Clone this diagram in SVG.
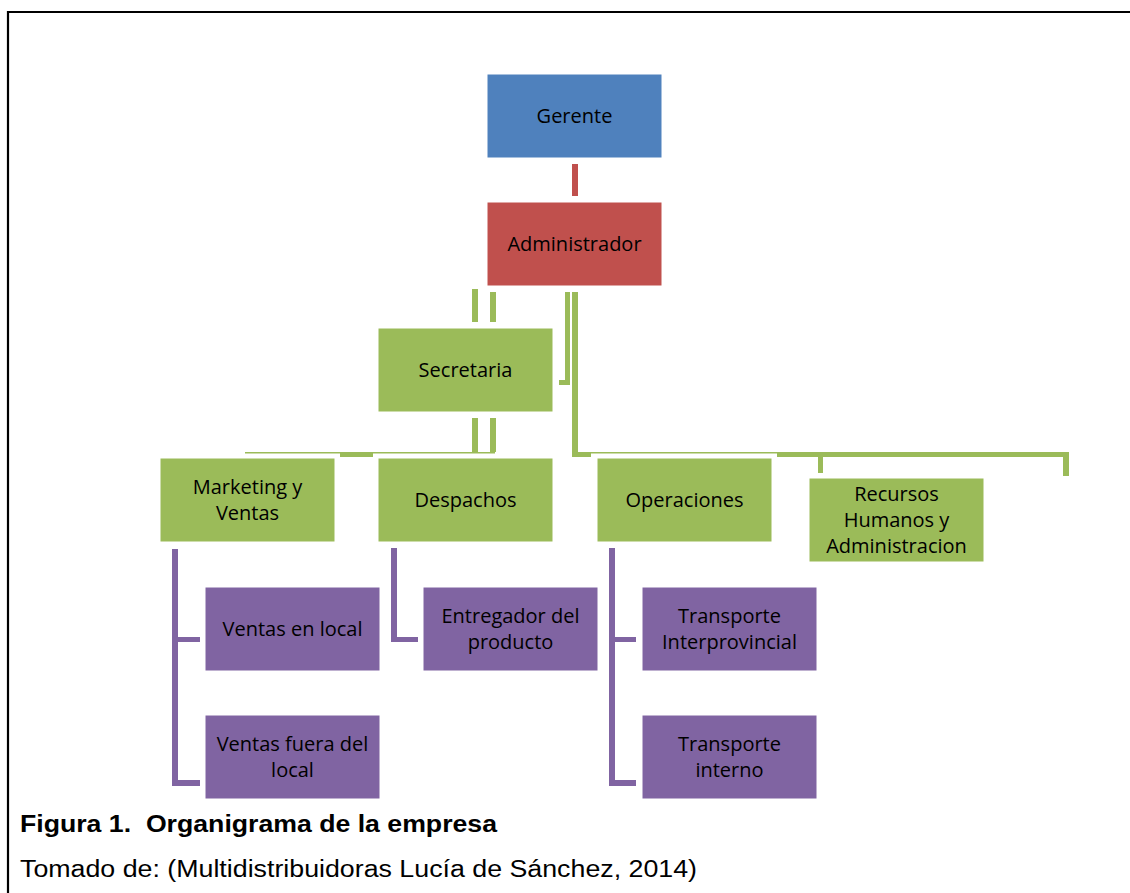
<svg xmlns="http://www.w3.org/2000/svg" width="1130" height="893" viewBox="0 0 1130 893">
  <style>
    .box { stroke: #ffffff; stroke-width: 1; }
    .blue { fill: #4F81BD; }
    .red { fill: #C0504D; }
    .green { fill: #9BBB59; }
    .purple { fill: #8064A2; }
    .lbl { font-family: "Open Sans", Lato, sans-serif; font-size: 20px; fill: #000; text-anchor: middle; }
    .cap { font-family: "Liberation Sans", Arial, sans-serif; font-size: 23px; fill: #000; }
  </style>
  <rect width="1130" height="893" fill="#ffffff"/>
  <!-- frame -->
  <path d="M8 893 V12 H1132" fill="none" stroke="#000" stroke-width="2.2"/>

  <!-- connectors -->
  <g id="connectors">
    <rect class="red" x="572" y="164" width="6" height="32"/>
    <g class="green">
      <rect x="472" y="289" width="6" height="33"/>
      <rect x="490" y="292" width="6" height="30"/>
      <rect x="565" y="292" width="5" height="93"/>
      <rect x="559" y="380" width="11" height="5"/>
      <rect x="572" y="292" width="6" height="165"/>
      <rect x="572" y="452" width="19" height="5"/>
      <rect x="591" y="452" width="186" height="1.5"/>
      <rect x="777" y="452" width="291" height="5"/>
      <rect x="818" y="452" width="5" height="21"/>
      <rect x="1063" y="452" width="6" height="24"/>
      <rect x="472" y="418" width="6" height="34"/>
      <rect x="490" y="418" width="6" height="34"/>
      <rect x="245" y="452" width="250" height="1.5"/>
      <rect x="340" y="452" width="33" height="5"/>
    </g>
    <g class="purple">
      <rect x="172" y="549" width="6" height="237"/>
      <rect x="172" y="637" width="28" height="5"/>
      <rect x="172" y="780" width="28" height="6"/>
      <rect x="391" y="548" width="6" height="94"/>
      <rect x="391" y="637" width="27" height="5"/>
      <rect x="609" y="548" width="6" height="238"/>
      <rect x="609" y="637" width="27" height="5"/>
      <rect x="609" y="780" width="27" height="6"/>
    </g>
  </g>

  <g id="gerente">
    <rect class="box blue" x="487" y="74" width="175" height="84"/>
    <text class="lbl" x="574.5" y="123">Gerente</text>
  </g>
  <g id="administrador">
    <rect class="box red" x="487" y="202" width="175" height="84"/>
    <text class="lbl" x="574.5" y="251">Administrador</text>
  </g>
  <g id="secretaria">
    <rect class="box green" x="378" y="328" width="175" height="84"/>
    <text class="lbl" x="465.5" y="377">Secretaria</text>
  </g>
  <g id="marketing">
    <rect class="box green" x="160" y="458" width="175" height="84"/>
    <text class="lbl" x="247.5" y="494">Marketing y</text>
    <text class="lbl" x="247.5" y="520">Ventas</text>
  </g>
  <g id="despachos">
    <rect class="box green" x="378" y="458" width="175" height="84"/>
    <text class="lbl" x="465.5" y="507">Despachos</text>
  </g>
  <g id="operaciones">
    <rect class="box green" x="597" y="458" width="175" height="84"/>
    <text class="lbl" x="684.5" y="507">Operaciones</text>
  </g>
  <g id="recursos-humanos">
    <rect class="box green" x="809" y="478" width="175" height="84"/>
    <text class="lbl" x="896.5" y="501">Recursos</text>
    <text class="lbl" x="896.5" y="527">Humanos y</text>
    <text class="lbl" x="896.5" y="553">Administracion</text>
  </g>
  <g id="ventas-local">
    <rect class="box purple" x="205" y="587" width="175" height="84"/>
    <text class="lbl" x="292.5" y="636">Ventas en local</text>
  </g>
  <g id="ventas-fuera">
    <rect class="box purple" x="205" y="715" width="175" height="84"/>
    <text class="lbl" x="292.5" y="751">Ventas fuera del</text>
    <text class="lbl" x="292.5" y="777">local</text>
  </g>
  <g id="entregador">
    <rect class="box purple" x="423" y="587" width="175" height="84"/>
    <text class="lbl" x="510.5" y="623">Entregador del</text>
    <text class="lbl" x="510.5" y="649">producto</text>
  </g>
  <g id="transporte-interprovincial">
    <rect class="box purple" x="642" y="587" width="175" height="84"/>
    <text class="lbl" x="729.5" y="623">Transporte</text>
    <text class="lbl" x="729.5" y="649">Interprovincial</text>
  </g>
  <g id="transporte-interno">
    <rect class="box purple" x="642" y="715" width="175" height="84"/>
    <text class="lbl" x="729.5" y="751">Transporte</text>
    <text class="lbl" x="729.5" y="777">interno</text>
  </g>

  <!-- caption -->
  <text class="cap" x="20" y="832" font-weight="bold" textLength="477" lengthAdjust="spacingAndGlyphs" xml:space="preserve">Figura 1.  Organigrama de la empresa</text>
  <text class="cap" x="20" y="877" textLength="677" lengthAdjust="spacingAndGlyphs">Tomado de: (Multidistribuidoras Lucía de Sánchez, 2014)</text>
</svg>
